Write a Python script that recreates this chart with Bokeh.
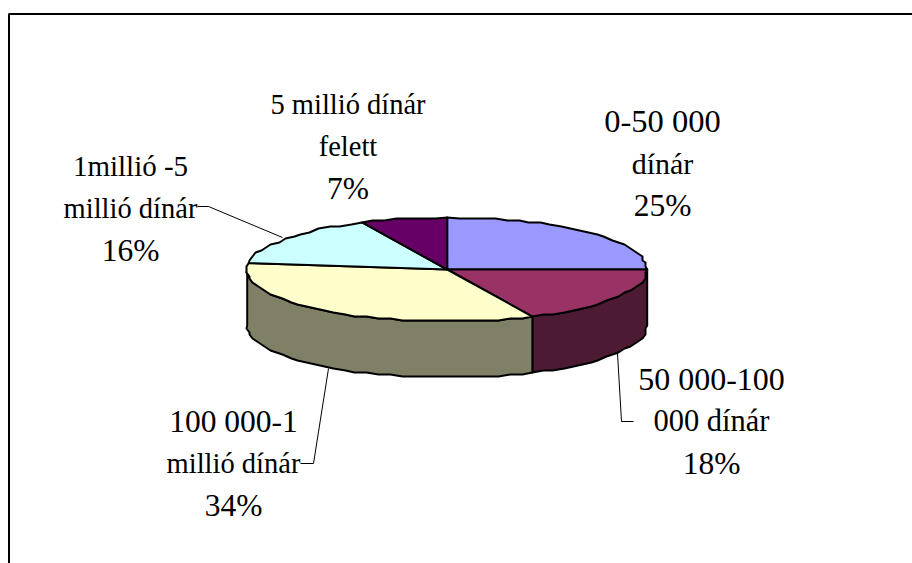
import numpy as np
from bokeh.plotting import figure
from bokeh.core.properties import value
from bokeh.embed import file_html
from bokeh.resources import INLINE

labels = [["0-50 000", "dínár", "25%"],
          ["50 000-100", "000 dínár", "18%"],
          ["100 000-1", "millió dínár", "34%"],
          ["1millió -5", "millió dínár", "16%"],
          ["5 millió dínár", "felett", "7%"]]
shares = [25, 18, 34, 16, 7]
top_colors = ["#9999FF", "#993366", "#FFFFCC", "#CCFFFF", "#660066"]
side_colors = ["#4D4D80", "#4D1A33", "#808066", "#668080", "#330033"]
label_x = [662, 711, 233, 130, 347.5]
label_y = [120.5, 378.5, 420.5, 165.5, 103.5]
label_px = [[32.5, 30, 31.5],
            [32, 30.5, 31.5],
            [31.5, 28.5, 31.5],
            [29, 28.5, 31.5],
            [28.5, 28.5, 31.5]]
LINE_H = 42
leader_x = [None, [633, 621, 617], [300, 313, 328], [197, 208, 282], None]
leader_y = [None, [421, 421, 353], [463, 463, 368], [206, 206, 237], None]

CX, CY, RX, RY, DEPTH = 446.7, 269, 200, 52, 56

p = figure(width=912, height=563, x_range=(0, 912), y_range=(563, 0),
           output_backend="svg", toolbar_location=None, min_border=0,
           outline_line_color=None)
p.axis.visible = False
p.grid.visible = False
p.background_fill_color = "white"

# outer frame
p.line([8.5, 8.5, 912], [563, 13.5, 13.5], line_color="black", line_width=2)


def rim(a0, a1, step=3.5):
    """Ellipse rim points, clockwise from 12 o'clock, slightly stepped like the source."""
    n = max(2, int(round((a1 - a0) / step)) + 1)
    t = np.radians(np.linspace(a0, a1, n))
    xs = CX + RX * np.sin(t)
    ys = CY - RY * np.cos(t)
    xs[1:-1] = np.round(xs[1:-1] / 3.0) * 3.0
    ys[1:-1] = np.round(ys[1:-1] / 2.0) * 2.0
    return xs, ys


edges = np.concatenate([[0], np.cumsum(shares)]) * 3.6

# side walls (only the front half of the rim is visible)
for a0, a1, col in zip(edges[:-1], edges[1:], side_colors):
    lo, hi = max(a0, 90), min(a1, 270)
    if hi <= lo:
        continue
    xs, ys = rim(lo, hi)
    p.patch(np.concatenate([xs, xs[::-1]]), np.concatenate([ys, ys[::-1] + DEPTH]),
            fill_color=col, line_color="black", line_width=2, line_join="round")

# top slices
for a0, a1, col in zip(edges[:-1], edges[1:], top_colors):
    xs, ys = rim(a0, a1)
    p.patch(np.concatenate([[CX], xs]), np.concatenate([[CY], ys]),
            fill_color=col, line_color="black", line_width=2, line_join="round")

# leader lines
for lx, ly in zip(leader_x, leader_y):
    if lx is not None:
        p.line(lx, ly, line_color="black", line_width=1)

# labels
for lines, sizes, x, y in zip(labels, label_px, label_x, label_y):
    for i, (s, px) in enumerate(zip(lines, sizes)):
        p.text([x], [y + i * LINE_H], text=[s], text_font=value("Liberation Serif"),
               text_font_size=f"{px}px", text_color="black",
               text_align="center", text_baseline="alphabetic")

open("out.html", "w").write(file_html(p, INLINE))
